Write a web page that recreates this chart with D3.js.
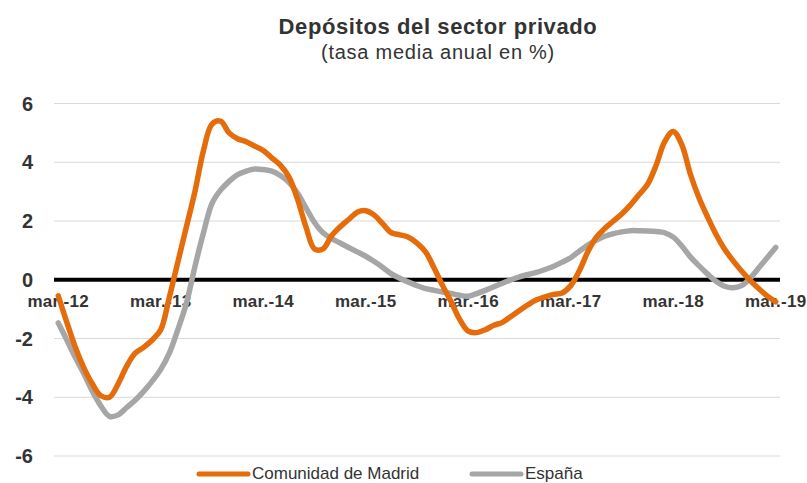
<html>

<head>
  <meta charset="utf-8">
  <script src="https://cdn.jsdelivr.net/npm/d3@7/dist/d3.min.js"></script>
  <style>
    body { margin: 0; background: #fff; }
    text { font-family: "Liberation Sans", Arial, sans-serif; fill: #333; }
  </style>
  <script>
    // monthly categories mar.-12 .. mar.-19
    var monthNames = ["mar.", "abr.", "may.", "jun.", "jul.", "ago.", "sep.", "oct.", "nov.", "dic.", "ene.", "feb."];
    var tickLabels = ["mar.-12", "mar.-13", "mar.-14", "mar.-15", "mar.-16", "mar.-17", "mar.-18", "mar.-19"];
    var yTicks = [-6, -4, -2, 0, 2, 4, 6];

    var madrid = [
      -0.55, -1.45, -2.3, -3.0, -3.55, -3.95, -4.0, -3.55, -2.95, -2.5, -2.3, -2.05,
      -1.7, -0.6, 0.6, 1.8, 3.0, 4.4, 5.3, 5.4, 5.0, 4.8, 4.7, 4.55,
      4.4, 4.15, 3.9, 3.5, 2.75, 1.8, 1.05, 1.05, 1.5, 1.8, 2.05, 2.3,
      2.35, 2.2, 1.9, 1.6, 1.53, 1.45, 1.25, 0.95, 0.4, -0.2, -0.75, -1.35,
      -1.75, -1.8, -1.7, -1.55, -1.45, -1.25, -1.05, -0.85, -0.68, -0.58, -0.5, -0.45,
      -0.2, 0.3, 0.95, 1.45, 1.75, 2.0, 2.25, 2.55, 2.9, 3.25, 3.9, 4.7,
      5.05, 4.6, 3.6, 2.8, 2.15, 1.55, 1.05, 0.65, 0.3, -0.02, -0.3, -0.55,
      -0.75
    ];
    var espana = [
      -1.47, -2.05, -2.65, -3.2, -3.8, -4.3, -4.65, -4.6, -4.35, -4.1, -3.8, -3.45,
      -3.05, -2.5, -1.7, -0.8, 0.45, 1.6, 2.6, 3.05, 3.35, 3.58, 3.7, 3.77,
      3.75, 3.7, 3.55, 3.32, 2.95, 2.45, 1.95, 1.6, 1.4, 1.25, 1.1, 0.95,
      0.8, 0.62, 0.42, 0.2, 0.05, -0.08, -0.2, -0.3, -0.36, -0.42, -0.47, -0.53,
      -0.56, -0.47, -0.36, -0.24, -0.12, 0.0, 0.1, 0.18, 0.25, 0.35, 0.46, 0.6,
      0.75, 0.97, 1.18, 1.35, 1.48, 1.57, 1.63, 1.67, 1.67, 1.66, 1.64, 1.6,
      1.45, 1.15, 0.78, 0.48, 0.2, -0.05, -0.22, -0.27, -0.2, 0.05, 0.4, 0.75,
      1.1
    ];

    var categories = madrid.map(function (d, i) {
      return monthNames[i % 12] + "-" + (12 + Math.floor((i + 2) / 12));
    });

    window.onload = function () {
      var width = 807, height = 483;
      var svg = d3.select("body").append("svg").attr("width", width).attr("height", height);

      var x = d3.scalePoint().domain(categories).range([54, 780]).padding(0.5);
      var y = d3.scaleLinear().domain([-6, 6]).range([456, 103.5]);

      // title
      svg.append("text").attr("x", 438).attr("y", 34).attr("text-anchor", "middle")
        .style("font-size", "22px").style("font-weight", "bold").style("letter-spacing", "0.6px")
        .text("Depósitos del sector privado");
      svg.append("text").attr("x", 438).attr("y", 59).attr("text-anchor", "middle")
        .style("font-size", "20px").style("letter-spacing", "0.75px")
        .text("(tasa media anual en %)");

      // gridlines
      svg.append("g").selectAll("line").data(yTicks.filter(function (d) { return d !== 0; }))
        .enter().append("line")
        .attr("x1", 54).attr("x2", 780)
        .attr("y1", function (d) { return y(d); })
        .attr("y2", function (d) { return y(d); })
        .attr("stroke", "#d9d9d9").attr("stroke-width", 1);

      // y labels
      svg.append("g").selectAll("text").data(yTicks).enter().append("text")
        .attr("x", 33).attr("y", function (d) { return y(d); })
        .attr("dy", "0.36em").attr("text-anchor", "end")
        .style("font-size", "20px").style("font-weight", "bold")
        .text(function (d) { return d; });

      // zero line
      svg.append("line").attr("x1", 54).attr("x2", 780)
        .attr("y1", y(0)).attr("y2", y(0))
        .attr("stroke", "#000").attr("stroke-width", 4);

      // x labels
      svg.append("g").selectAll("text").data(tickLabels).enter().append("text")
        .attr("x", function (d) { return x(d); })
        .attr("y", 307).attr("text-anchor", "middle")
        .style("font-size", "17px").style("font-weight", "bold").style("letter-spacing", "0.3px")
        .text(function (d) { return d; });

      var line = d3.line()
        .x(function (d, i) { return x(categories[i]); })
        .y(function (d) { return y(d); })
        .curve(d3.curveCatmullRom.alpha(0.5));

      svg.append("path").datum(espana).attr("d", line)
        .attr("fill", "none").attr("stroke", "#a6a6a6").attr("stroke-width", 5.5)
        .attr("stroke-linejoin", "round").attr("stroke-linecap", "round");
      svg.append("path").datum(madrid).attr("d", line)
        .attr("fill", "none").attr("stroke", "#e46c0a").attr("stroke-width", 5.5)
        .attr("stroke-linejoin", "round").attr("stroke-linecap", "round");

      // legend
      var legend = [
        { name: "Comunidad de Madrid", color: "#e46c0a", x: 197 },
        { name: "España", color: "#a6a6a6", x: 470 }
      ];
      var lg = svg.append("g").selectAll("g").data(legend).enter().append("g");
      lg.append("line")
        .attr("x1", function (d) { return d.x + 2; }).attr("x2", function (d) { return d.x + 51; })
        .attr("y1", 474).attr("y2", 474)
        .attr("stroke", function (d) { return d.color; }).attr("stroke-width", 5)
        .attr("stroke-linecap", "round");
      lg.append("text")
        .attr("x", function (d) { return d.x + 55; }).attr("y", 479)
        .style("font-size", "17px")
        .text(function (d) { return d.name; });
    };
  </script>
</head>

<body>
</body>

</html>
